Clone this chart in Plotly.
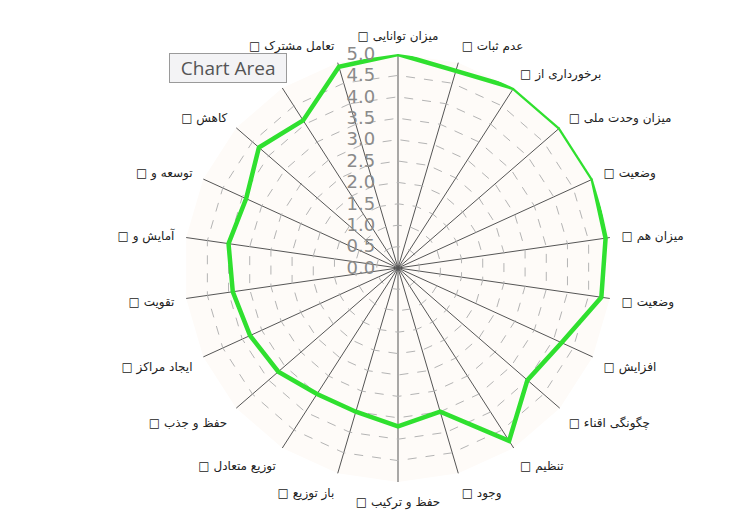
import plotly.graph_objects as go

categories = [
    "میزان توانایی", "عدم ثبات", "برخورداری از", "میزان وحدت ملی", "وضعیت",
    "میزان هم", "وضعیت ", "افزایش", "چگونگی اقناء", "تنظیم", "وجود",
    "حفظ و ترکیب", "باز توزیع", "توزیع متعادل", "حفظ و جذب", "ایجاد مراکز",
    "تقویت", "آمایش و", "توسعه و", "کاهش", "ترکیب و", "تعامل مشترک",
]
values = [5.0, 4.8, 5.0, 5.0, 5.0, 4.9, 4.8, 4.2, 4.0, 4.8, 3.5,
          3.7, 3.5, 3.5, 3.7, 3.8, 3.9, 4.0, 3.9, 4.3, 4.1, 4.9]
radial_ticks = [0.0, 0.5, 1.0, 1.5, 2.0, 2.5, 3.0, 3.5, 4.0, 4.5, 5.0]

labels = ["\u25a1 " + c for c in categories]

fig = go.Figure()
fig.add_trace(go.Scatterpolar(
    r=values + values[:1],
    theta=labels + labels[:1],
    mode="lines",
    line=dict(color="#2fe02f", width=4.5),
    showlegend=False,
    hoverinfo="skip",
))

W, H = 755, 515
cx, cy, R = 390, 260, 214
fig.update_layout(
    width=W, height=H,
    margin=dict(l=0, r=0, t=0, b=0),
    paper_bgcolor="white",
    font=dict(family="DejaVu Sans, Noto Sans", color="#222"),
    polar=dict(
        domain=dict(x=[(cx - R) / W, (cx + R) / W],
                    y=[(H - cy - R) / H, (H - cy + R) / H]),
        bgcolor="#fefbf8",
        gridshape="linear",
        angularaxis=dict(
            direction="clockwise",
            rotation=90,
            showline=False,
            gridcolor="#555555",
            gridwidth=1.2,
            ticks="outside",
            ticklen=9,
            tickcolor="rgba(0,0,0,0)",
            tickfont=dict(size=12, color="#222"),
        ),
        radialaxis=dict(
            range=[0, 5],
            tickvals=radial_ticks,
            ticktext=[f"{v:.1f}" for v in radial_ticks],
            angle=90,
            tickangle=90,
            side="counterclockwise",
            showline=False,
            ticks="outside",
            ticklen=16,
            tickcolor="rgba(0,0,0,0)",
            gridcolor="#b4b4b4",
            griddash="dash",
            gridwidth=1,
            tickfont=dict(size=18, color="#8a8a8a", family="DejaVu Sans"),
        ),
    ),
)

fig.add_annotation(
    xref="paper", yref="paper",
    x=220 / W, y=1 - 60 / H,
    xanchor="center", yanchor="middle",
    text="&nbsp;&nbsp;Chart Area&nbsp;&nbsp;",
    showarrow=False,
    font=dict(size=19, color="#555", family="Open Sans"),
    bgcolor="#f3f3f5",
    bordercolor="#9a9a9a",
    borderwidth=1,
    borderpad=1,
)

fig.write_html("out.html")
